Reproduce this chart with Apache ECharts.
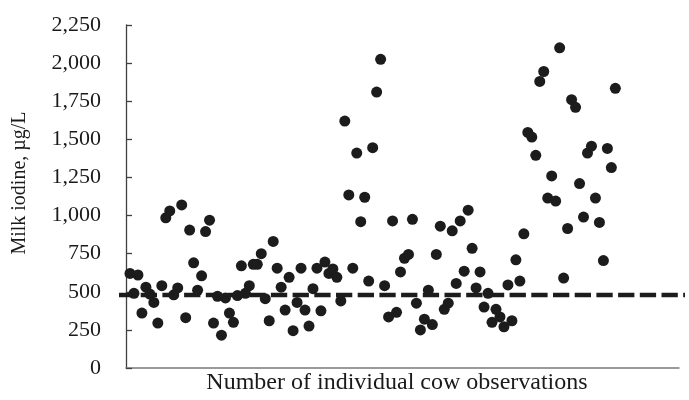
<!DOCTYPE html>
<html>
<head>
<meta charset="utf-8">
<script src="https://cdn.jsdelivr.net/npm/echarts@6/dist/echarts.min.js"></script>
<style>
  html, body { margin: 0; padding: 0; background: #fff; }
  #chart { width: 689px; height: 400px; }
</style>
</head>
<body>
<div id="chart"></div>
<script>
// Milk iodine concentration (µg/L) for each individual cow observation, in order
const milkIodine = [
  620, 490, 610, 360, 530, 485, 430, 295, 540, 985,
  1030, 480, 525, 1070, 330, 905, 690, 510, 605, 895,
  970, 295, 470, 215, 460, 360, 300, 475, 670, 490,
  540, 680, 680, 750, 455, 310, 830, 655, 530, 380,
  595, 245, 430, 655, 380, 275, 520, 655, 375, 695,
  620, 650, 595, 440, 1620, 1135, 655, 1410, 960, 1120,
  570, 1445, 1810, 2025, 540, 335, 965, 365, 630, 720,
  745, 975, 425, 250, 320, 510, 285, 745, 930, 385,
  425, 900, 555, 965, 635, 1035, 785, 525, 630, 400,
  490, 300, 385, 335, 270, 545, 310, 710, 570, 880,
  1545, 1515, 1395, 1880, 1945, 1115, 1260, 1095, 2100, 590,
  915, 1760, 1710, 1210, 990, 1410, 1455, 1115, 955, 705,
  1440, 1315, 1835
];
// Observation number of each cow record (1-based)
const observationNo = milkIodine.map((_, i) => i + 1);
// Reference level drawn as a dashed line
const referenceLevel = 500;
const referenceSpan = [0, 1];

const yAxisMin = 0;
const yAxisMax = 2250;
const yAxisStep = 250;

const serif = '"Liberation Serif", "Times New Roman", serif';
const ink = '#1c1c1c';

const chart = echarts.init(document.getElementById('chart'), null, { renderer: 'canvas' });

chart.setOption({
  animation: false,
  backgroundColor: '#ffffff',
  grid: [
    { left: 126, right: 10, top: 25, bottom: 28, containLabel: false },
    { left: 119, right: 4, top: 25, bottom: 28, containLabel: false }
  ],
  xAxis: [
    {
      type: 'value', gridIndex: 0, min: 0, max: 139,
      axisLine: { show: true, lineStyle: { color: '#7a7a7a', width: 1.5 } },
      axisTick: { show: false },
      axisLabel: { show: false },
      splitLine: { show: false },
      name: 'Number of individual cow observations',
      nameLocation: 'middle',
      nameGap: 3,
      nameTextStyle: {
        fontFamily: serif, fontSize: 24, color: '#1a1a1a',
        padding: [0, 11, 0, 0]
      }
    },
    {
      type: 'value', gridIndex: 1, min: referenceSpan[0], max: referenceSpan[1],
      show: false
    }
  ],
  yAxis: [
    {
      type: 'value', gridIndex: 0,
      min: yAxisMin, max: yAxisMax, interval: yAxisStep,
      axisLine: { show: true, lineStyle: { color: '#404040', width: 1.3 } },
      axisTick: { show: true, inside: true, length: 6, lineStyle: { color: '#404040', width: 1.3 } },
      axisLabel: {
        margin: 25,
        fontFamily: serif, fontSize: 22, color: '#1a1a1a',
        padding: [4, 0, 0, 0],
        formatter: v => String(v).replace(/\B(?=(\d{3})+(?!\d))/g, ',')
      },
      splitLine: { show: false },
      name: 'Milk iodine, µg/L',
      nameLocation: 'middle',
      nameGap: 96,
      nameRotate: 90,
      nameTextStyle: {
        fontFamily: serif, fontSize: 20, color: '#1a1a1a',
        padding: [0, 0, 0, 27]
      }
    },
    {
      type: 'value', gridIndex: 1, min: yAxisMin, max: yAxisMax, show: false
    }
  ],
  series: [
    {
      type: 'line',
      xAxisIndex: 1, yAxisIndex: 1,
      data: referenceSpan.map(x => [x, referenceLevel]),
      symbol: 'none',
      silent: true,
      z: 1,
      lineStyle: { color: ink, width: 4.5, type: [16.3, 5.4], cap: 'butt' }
    },
    {
      type: 'scatter',
      xAxisIndex: 0, yAxisIndex: 0,
      data: observationNo.map((n, i) => [n, milkIodine[i]]),
      symbol: 'circle',
      symbolSize: 11,
      z: 2,
      itemStyle: { color: ink, opacity: 1 }
    }
  ]
});
</script>
</body>
</html>
